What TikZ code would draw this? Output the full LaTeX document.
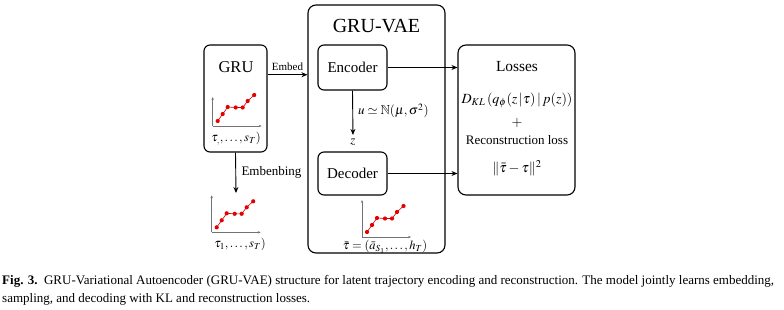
\documentclass[tikz,border=0pt]{standalone}
\usepackage{mathptmx}
\usepackage{amssymb}
\usepackage{fontspec}
\setmainfont{Liberation Serif}
\usetikzlibrary{arrows.meta,calc,positioning}
\newcommand{\tsize}[1]{\fontsize{#1}{#1}\selectfont}
\tikzset{pin/.style={-{Stealth[length=6pt,width=5pt]}, line width=0.9pt},
  rbox/.style={draw, line width=1.1pt, rounded corners=6pt, inner sep=0pt},
  axis/.style={black!55, line width=0.5pt, -{Stealth[length=3pt,width=2.4pt]}},
  traj/.style={red!80!black, line width=0.6pt},
  dot/.style={fill=red!90!black},
  tlbl/.style={font=\tsize{12.5}, inner sep=0.5pt}}

\begin{document}
\begin{tikzpicture}[x=1pt, y=-1pt]
  \useasboundingbox (0,0) rectangle (784,310);
  % GRU block
  \node[rbox, minimum width=63pt, minimum height=107pt] (gru) at (235.5,98.5) {};
  \node[font=\tsize{16.5}] (gruT) at (236,67) {GRU};
  \node[tlbl] (gruL) at (236,139) {$\tau_{,},\ldots,s_T)$};
  % GRU-VAE block
  \node[rbox, rounded corners=8pt, minimum width=137pt, minimum height=248pt] (vae) at (376.5,129) {};
  \node[font=\tsize{20}] (vaeT) at (376.5,26) {GRU-VAE};
  \node[rbox, minimum width=69pt, minimum height=45pt, font=\tsize{15}] (enc) at (352.5,67.5) {Encoder};
  \node[rbox, minimum width=69pt, minimum height=43pt, font=\tsize{15}] (dec) at (352.5,173.5) {Decoder};
  \node[font=\tsize{13}, inner sep=0.5pt] (z) at (353,142) {$z$};
  \node[font=\tsize{13}, anchor=west, inner sep=1pt] (samp) at (357,111) {$u\simeq\mathbb{N}(\mu,\sigma^2)$};
  \node[tlbl] (vaeL) at (385,247) {$\bar{\tau}=(\bar{a}_{S_1},\ldots,h_T)$};
  % losses
  \node[rbox, rounded corners=8pt, minimum width=117pt, minimum height=150pt] (loss) at (516.5,120) {};
  \node[font=\tsize{15.4}] (lossT) at (517,67) {Losses};
  \node[font=\tsize{14}, inner sep=1pt] (kl) at (517,100) {$D_{KL}\,(q_\phi(z\,|\tau)\,|\,p(z))$};
  \node[font=\tsize{14}, inner sep=1pt] (plus) at (517,123) {$+$};
  \node[font=\tsize{13}, inner sep=1pt] (recT) at (517,140) {Reconstruction loss};
  \node[font=\tsize{14}, inner sep=1pt] (rec) at (517,168) {$\|\bar{\tau}-\tau\|^2$};
  % embedded trajectory
  \node[tlbl] (embL) at (240,244) {$\tau_1,\ldots,s_T)$};
  % trajectory plots
  \foreach \ox/\oy/\h in {212.7/126/29, 211.7/232.3/37, 362/237/37}{
    \draw[axis] (\ox,\oy) -- ++(0,-\h);
    \draw[axis] (\ox,\oy) -- ++(49,0);
    \draw[traj] (\ox+5,\oy-5) -- (\ox+10,\oy-12) -- (\ox+15,\oy-19) -- (\ox+23,\oy-18.5)
      -- (\ox+30,\oy-18.5) -- (\ox+35,\oy-25) -- (\ox+41.5,\oy-31);
    \foreach \dx/\dy in {5/5, 10/12, 15/19, 23/18.5, 30/18.5, 35/25, 41.5/31}
      \fill[dot] (\ox+\dx,\oy-\dy) circle (2.1pt);
  }
  % connectors
  \coordinate (embA) at ($(gru.north east)!0.28!(gru.south east)$);
  \draw[pin] (embA) -- (embA -| vae.west) node[midway, above, font=\tsize{11}] (embT) {Embed};
  \coordinate (gruB) at (236,193);
  \draw[pin] (gru.south) -- (gruB) node[midway, right=2pt, font=\tsize{13}] (embbT) {Embenbing};
  \draw[pin, shorten >=3pt] (enc.south) -- (z.north);
  \draw[pin] (enc.east) -- (enc.east -| loss.west);
  \draw[pin] (dec.east) -- (dec.east -| loss.west);
  % caption
  \node[anchor=base west, inner sep=0pt, font=\tsize{13}] (cap1) at (2,284)
    {\textbf{Fig. 3.}\ \ GRU-Variational Autoencoder (GRU-VAE) structure for latent trajectory encoding and reconstruction. The model jointly learns embedding,};
  \node[anchor=base west, inner sep=0pt, font=\tsize{13}] (cap2) at (2,302)
    {sampling, and decoding with KL and reconstruction losses.};
\end{tikzpicture}
\end{document}
